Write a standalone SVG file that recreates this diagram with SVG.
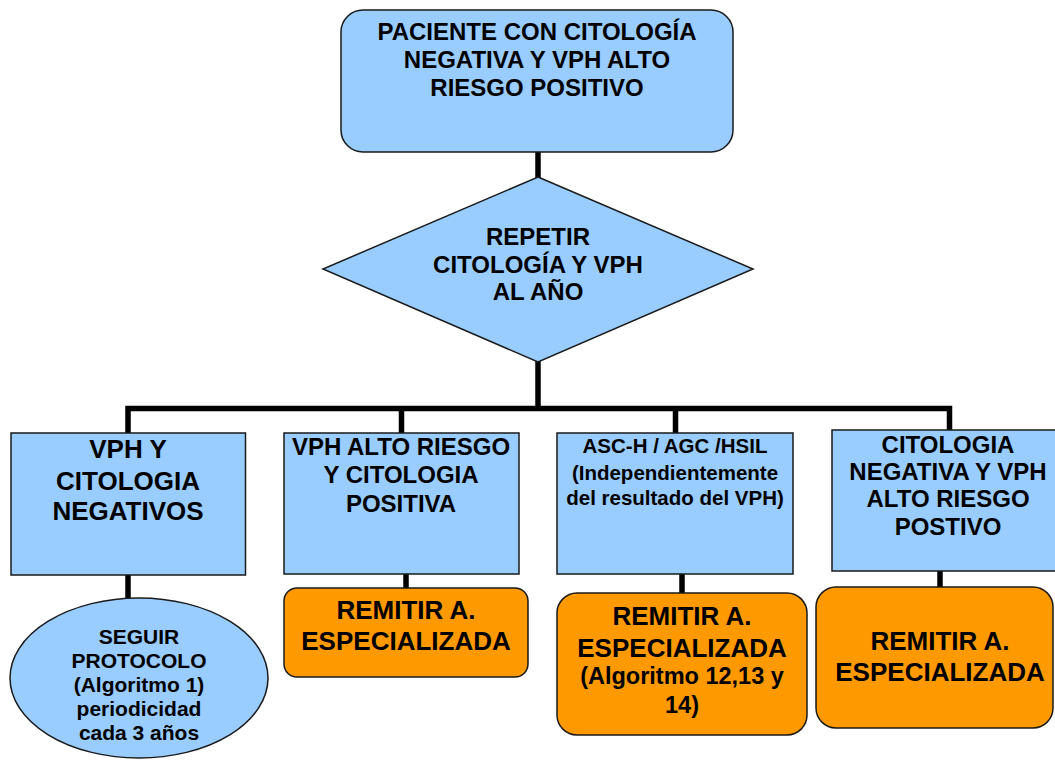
<svg xmlns="http://www.w3.org/2000/svg" width="1055" height="760" viewBox="0 0 1055 760">
<style>
.b{fill:#99CCFF;stroke:#1a1a1a;stroke-width:1.5}
.o{fill:#FF9900;stroke:#1a1a1a;stroke-width:1.5}
.c{fill:none;stroke:#000;stroke-width:5.5}
text{font-family:"Liberation Sans",Arial,sans-serif;font-weight:bold;fill:#000;text-anchor:middle}
.t23{font-size:24px}
.t26{font-size:26px}
.t20{font-size:20.5px}
.t21{font-size:21px}
.t22{font-size:23.5px}
</style>
<rect width="1055" height="760" fill="#fff"/>
<g id="connectors">
<line class="c" x1="538" y1="152" x2="538" y2="178"/>
<line class="c" x1="538" y1="361" x2="538" y2="408.5"/>
<polyline class="c" points="128,433 128,408.5 949.5,408.5 949.5,430"/>
<line class="c" x1="401.5" y1="408.5" x2="401.5" y2="433"/>
<line class="c" x1="675.5" y1="408.5" x2="675.5" y2="433"/>
<line class="c" x1="128" y1="575" x2="128" y2="598"/>
<line class="c" x1="406" y1="574" x2="406" y2="588"/>
<line class="c" x1="682" y1="574" x2="682" y2="594"/>
<line class="c" x1="940" y1="571" x2="940" y2="588"/>
</g>
<g id="start">
<rect class="b" x="341" y="10" width="392" height="142" rx="22"/>
<text class="t23" x="537" y="40">PACIENTE CON CITOLOGÍA</text>
<text class="t23" x="537" y="68">NEGATIVA Y VPH ALTO</text>
<text class="t23" x="537" y="96">RIESGO POSITIVO</text>
</g>
<g id="decision">
<polygon class="b" points="538,177 753,269 538,362 323,269"/>
<text class="t23" x="538" y="245">REPETIR</text>
<text class="t23" x="538" y="273">CITOLOGÍA Y VPH</text>
<text class="t23" x="538" y="300">AL AÑO</text>
</g>
<g id="neg">
<rect class="b" x="11" y="433" width="234.5" height="142"/>
<text class="t26" x="128" y="458">VPH Y</text>
<text class="t26" x="128" y="490">CITOLOGIA</text>
<text class="t26" x="128" y="520">NEGATIVOS</text>
</g>
<g id="seguir">
<ellipse class="b" cx="139" cy="678" rx="129" ry="80"/>
<text class="t21" x="139" y="644">SEGUIR</text>
<text class="t21" x="139" y="668">PROTOCOLO</text>
<text class="t21" x="139" y="692">(Algoritmo 1)</text>
<text class="t21" x="139" y="716">periodicidad</text>
<text class="t21" x="139" y="740">cada 3 años</text>
</g>
<g id="pos">
<rect class="b" x="284" y="433" width="235" height="141"/>
<text class="t23" x="401" y="455">VPH ALTO RIESGO</text>
<text class="t23" x="401" y="483">Y CITOLOGIA</text>
<text class="t23" x="401" y="512">POSITIVA</text>
</g>
<g id="remit2">
<rect class="o" x="284" y="588" width="244" height="89" rx="13"/>
<text class="t26" x="406" y="619">REMITIR A.</text>
<text class="t26" x="406" y="650">ESPECIALIZADA</text>
</g>
<g id="asch">
<rect class="b" x="557" y="433" width="236" height="141"/>
<text class="t20" x="675" y="453">ASC-H / AGC /HSIL</text>
<text class="t20" x="675" y="480">(Independientemente</text>
<text class="t20" x="675" y="505">del resultado del VPH)</text>
</g>
<g id="remit3">
<rect class="o" x="557" y="593" width="250" height="142" rx="20"/>
<text class="t26" x="682" y="625">REMITIR A.</text>
<text class="t26" x="682" y="657">ESPECIALIZADA</text>
<text class="t22" x="682" y="684">(Algoritmo 12,13 y</text>
<text class="t22" x="682" y="713">14)</text>
</g>
<g id="citneg">
<rect class="b" x="832" y="430" width="230" height="141"/>
<text class="t23" x="948" y="453">CITOLOGIA</text>
<text class="t23" x="948" y="480">NEGATIVA Y VPH</text>
<text class="t23" x="948" y="507">ALTO RIESGO</text>
<text class="t23" x="948" y="535">POSTIVO</text>
</g>
<g id="remit4">
<rect class="o" x="816" y="587" width="237" height="141" rx="20"/>
<text class="t26" x="940" y="650">REMITIR A.</text>
<text class="t26" x="940" y="681">ESPECIALIZADA</text>
</g>
</svg>
